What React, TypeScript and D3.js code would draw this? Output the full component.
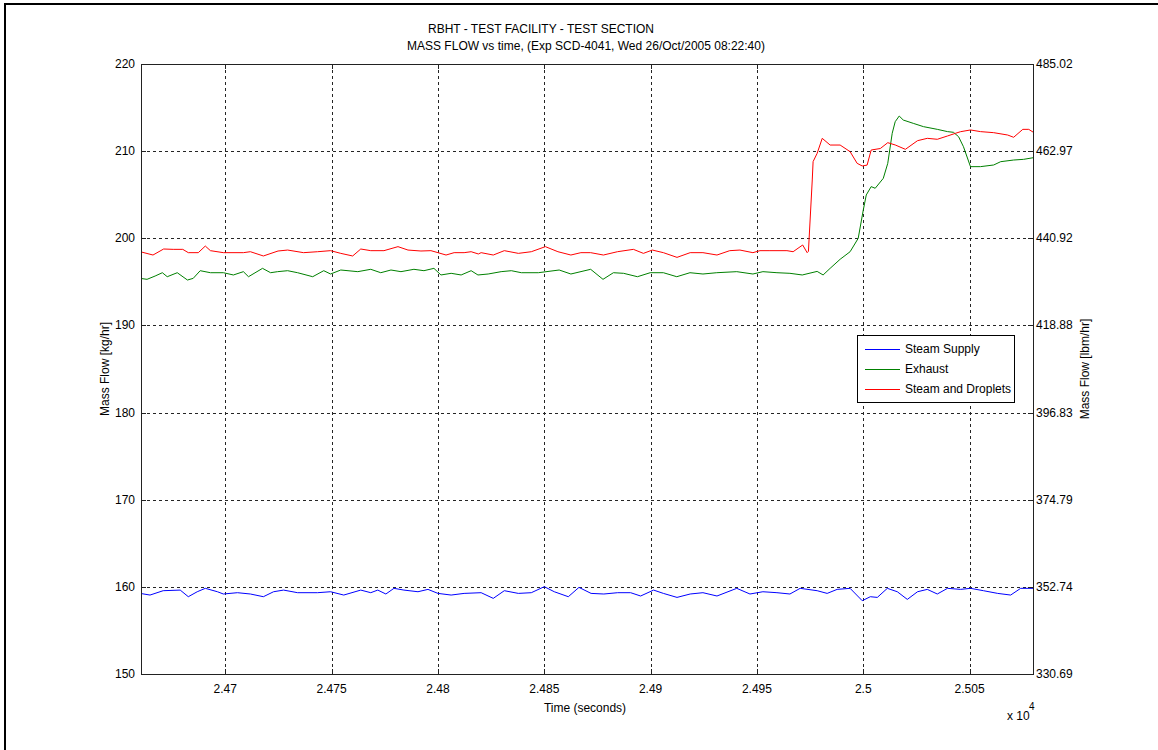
import React from "react";
import * as d3 from "d3";

const TITLE_LINE_1 = "RBHT - TEST FACILITY - TEST SECTION";
const TITLE_LINE_2 = "MASS FLOW vs time, (Exp SCD-4041, Wed 26/Oct/2005 08:22:40)";
const X_LABEL = "Time (seconds)";
const Y_LABEL_LEFT = "Mass Flow [kg/hr]";
const Y_LABEL_RIGHT = "Mass Flow [lbm/hr]";

const TIME_DOMAIN: [number, number] = [24660.36, 25079.8];
const FLOW_DOMAIN: [number, number] = [150, 220];
const X_TICKS = [24700, 24750, 24800, 24850, 24900, 24950, 25000, 25050];
const X_TICK_LABELS = ["2.47", "2.475", "2.48", "2.485", "2.49", "2.495", "2.5", "2.505"];
const Y_TICKS = [150, 160, 170, 180, 190, 200, 210, 220];
const Y_TICK_LABELS_LEFT = ["150", "160", "170", "180", "190", "200", "210", "220"];
const Y_TICK_LABELS_RIGHT = ["330.69", "352.74", "374.79", "396.83", "418.88", "440.92", "462.97", "485.02"];

const SERIES_NAMES = ["Steam Supply", "Exhaust", "Steam and Droplets"];
const SERIES_COLORS = ["#0000ff", "#008000", "#ff0000"];

// [time (s), mass flow (kg/hr)]
const steamSupply: [number, number][] = [
  [24660, 159.25], [24664.6, 159.06], [24670.8, 159.56], [24678.8, 159.63], [24682.6, 158.87],
  [24686.8, 159.44], [24690.6, 159.83], [24696.3, 159.44], [24699.1, 159.18], [24705.7, 159.33],
  [24711.8, 159.18], [24717.9, 158.87], [24722.7, 159.44], [24727.4, 159.63], [24734, 159.33],
  [24743.4, 159.33], [24749.5, 159.44], [24755.7, 159.06], [24763.7, 159.63], [24768.4, 159.33],
  [24771.7, 159.63], [24775.5, 159.18], [24779.3, 159.83], [24784, 159.63], [24790.6, 159.44],
  [24795.3, 159.71], [24800, 159.25], [24806.2, 159.06], [24812.3, 159.25], [24820.3, 159.33],
  [24826, 158.68], [24831.2, 159.56], [24837.8, 159.25], [24843.9, 159.33], [24850, 160.02],
  [24854.7, 159.44], [24861.3, 158.87], [24866.3, 159.94], [24872, 159.25], [24878, 159.18],
  [24884.5, 159.33], [24890.6, 159.33], [24895.3, 158.95], [24901.4, 159.63], [24906, 159.25],
  [24912.4, 158.79], [24918.6, 159.18], [24924.6, 159.33], [24931.2, 158.95], [24940.5, 159.83],
  [24946.7, 159.18], [24952.8, 159.44], [24959.4, 159.33], [24965.5, 159.18], [24970.3, 159.83],
  [24978.3, 159.56], [24983, 159.25], [24987.7, 159.71], [24993.8, 159.83], [24999.5, 158.41],
  [25003.3, 158.87], [25006.6, 158.79], [25011.3, 159.83], [25016, 159.44], [25020.7, 158.56],
  [25025.5, 159.44], [25030.1, 159.71], [25034.8, 159.18], [25039.6, 159.83], [25045.7, 159.71],
  [25050.4, 159.83], [25056.5, 159.56], [25063.2, 159.25], [25069.3, 159.06], [25074, 159.83],
  [25080, 159.83],
];

const exhaust: [number, number][] = [
  [24660, 195.4], [24663.2, 195.29], [24667, 195.67], [24670.4, 196.05], [24672.7, 195.59],
  [24677.4, 196.05], [24682.2, 195.21], [24684.9, 195.4], [24688.2, 196.28], [24693, 196.05],
  [24699.1, 196.05], [24703.8, 195.79], [24708.5, 196.17], [24710.9, 195.59], [24717.5, 196.55],
  [24721.3, 196.05], [24724.6, 196.17], [24729.3, 196.28], [24734, 196.05], [24741.1, 195.59],
  [24746.3, 196.28], [24749.5, 195.9], [24754.3, 196.36], [24762.3, 196.17], [24768.4, 196.44],
  [24773.1, 196.05], [24777.9, 196.36], [24782.6, 196.17], [24788.7, 196.44], [24793.4, 196.28],
  [24798.1, 196.55], [24801.4, 195.79], [24806.2, 195.98], [24810.9, 195.79], [24815.6, 196.28],
  [24818.8, 195.79], [24823.6, 195.9], [24829.7, 196.17], [24834.5, 196.28], [24839.2, 196.05],
  [24847.2, 196.05], [24857, 196.36], [24862.5, 195.9], [24871.8, 196.44], [24877.6, 195.29],
  [24882.5, 196.05], [24887.3, 195.98], [24893.8, 195.59], [24899.8, 196.05], [24906, 196.05],
  [24912.3, 195.59], [24918.5, 196.05], [24924.6, 195.9], [24931.1, 196.05], [24940.5, 196.17],
  [24948.1, 195.9], [24952.8, 196.17], [24959.4, 196.05], [24965.5, 195.98], [24971.3, 195.79],
  [24978.3, 196.2], [24981.1, 195.79], [24984.4, 196.55], [24989.1, 197.59], [24993.8, 198.46],
  [24997.6, 199.99], [25000, 203.25], [25001.4, 204.97], [25003.7, 205.93], [25005.6, 205.74],
  [25009.4, 206.88], [25011.5, 208.6], [25013.6, 212.05], [25015, 213.38], [25016.9, 214.03],
  [25018.8, 213.57], [25023.5, 213.19], [25028.3, 212.81], [25034.8, 212.5], [25039.6, 212.24],
  [25042.4, 212.16], [25044.8, 211.66], [25047.1, 210.51], [25050.4, 208.22], [25055.1, 208.22],
  [25061.3, 208.41], [25064.6, 208.79], [25070.7, 208.98], [25075.4, 209.06], [25080, 209.25],
];

const steamAndDroplets: [number, number][] = [
  [24660, 198.46], [24666, 198.08], [24671, 198.77], [24675.5, 198.73], [24680, 198.73],
  [24682.6, 198.35], [24687.3, 198.35], [24690.6, 199.11], [24693, 198.58], [24699.1, 198.35],
  [24708.5, 198.35], [24711.8, 198.46], [24717.9, 197.97], [24724.8, 198.54], [24729.3, 198.65],
  [24736.8, 198.35], [24743.4, 198.46], [24749.5, 198.58], [24754.3, 198.27], [24759.9, 197.97],
  [24763.7, 198.77], [24768.4, 198.58], [24774.6, 198.58], [24781.2, 199.04], [24785.9, 198.65],
  [24792, 198.54], [24796.7, 198.58], [24800, 198.35], [24803.8, 198.08], [24807.6, 198.35],
  [24812.3, 198.35], [24815.6, 198.46], [24819, 198.2], [24820.3, 198.35], [24826, 198.08],
  [24831.2, 198.58], [24837.8, 198.27], [24843.9, 198.46], [24850.5, 199.04], [24856.4, 198.46],
  [24862.5, 198.08], [24867.2, 198.35], [24871.8, 198.35], [24877.8, 198.08], [24884.4, 198.46],
  [24891.9, 198.73], [24896.6, 198.27], [24900.8, 198.65], [24906, 198.35], [24912.4, 197.81],
  [24918.6, 198.35], [24924.6, 198.35], [24931.2, 198.08], [24937.2, 198.58], [24942, 198.65],
  [24948.1, 198.35], [24951.4, 198.58], [24956.1, 198.58], [24964.1, 198.58], [24967, 198.46],
  [24971.5, 199.23], [24973.6, 198.35], [24974.2, 198.5], [24976, 206.69], [24976.4, 208.8],
  [24978.3, 209.75], [24980.7, 211.47], [24984.4, 210.7], [24989.1, 210.7], [24993.8, 209.94],
  [24997.1, 208.6], [24999.5, 208.3], [25001.8, 208.4], [25003.7, 210.13], [25008, 210.3],
  [25011.5, 210.97], [25015, 210.71], [25019.8, 210.21], [25025.5, 211.2], [25030.1, 211.47],
  [25034.8, 211.36], [25039.6, 211.74], [25043.4, 212.05], [25045.7, 212.23], [25050.4, 212.43],
  [25055.1, 212.24], [25061.3, 212.12], [25067.9, 211.85], [25070.7, 211.59], [25075, 212.5],
  [25077.8, 212.5], [25080, 212.16],
];

const ALL_SERIES = [steamSupply, exhaust, steamAndDroplets];

const W = 1158;
const H = 750;
const PL = 141;
const PR = 1033;
const PT = 64;
const PB = 674;
const FONT = "'Liberation Sans', Arial, Helvetica, sans-serif";

export default function App() {
  const x = d3.scaleLinear().domain(TIME_DOMAIN).range([PL, PR]);
  const y = d3.scaleLinear().domain(FLOW_DOMAIN).range([PB, PT]);
  const line = d3
    .line<[number, number]>()
    .x((d) => x(d[0]))
    .y((d) => y(d[1]));
  const tickLen = 5;

  return (
    <svg
      width={W}
      height={H}
      style={{ position: "absolute", left: 0, top: 0, background: "#fff" }}
      fontFamily={FONT}
      fontSize={12}
    >
      <rect x={0} y={0} width={W} height={H} fill="#fff" />
      <rect x={5} y={4} width={W + 20} height={H + 20} fill="none" stroke="#000" strokeWidth={2} />
      <defs>
        <clipPath id="plotClip">
          <rect x={PL} y={PT} width={PR - PL} height={PB - PT} />
        </clipPath>
      </defs>

      {/* grid */}
      <g stroke="#000" strokeWidth={1} strokeDasharray="3,3" opacity={0.85}>
        {X_TICKS.map((t) => (
          <line key={"gx" + t} x1={Math.round(x(t)) + 0.5} x2={Math.round(x(t)) + 0.5} y1={PT} y2={PB} />
        ))}
        {Y_TICKS.filter((v) => v !== 150 && v !== 220).map((v) => (
          <line key={"gy" + v} x1={PL} x2={PR} y1={Math.round(y(v)) + 0.5} y2={Math.round(y(v)) + 0.5} />
        ))}
      </g>

      {/* data */}
      <g clipPath="url(#plotClip)" fill="none" strokeWidth={1}>
        {ALL_SERIES.map((s, i) => (
          <path key={SERIES_NAMES[i]} d={line(s) || ""} stroke={SERIES_COLORS[i]} />
        ))}
      </g>

      {/* axes box */}
      <rect x={PL + 0.5} y={PT + 0.5} width={PR - PL} height={PB - PT} fill="none" stroke="#222" strokeWidth={1} />

      {/* ticks */}
      <g stroke="#222" strokeWidth={1}>
        {X_TICKS.map((t) => (
          <g key={"tx" + t}>
            <line x1={Math.round(x(t)) + 0.5} x2={Math.round(x(t)) + 0.5} y1={PB} y2={PB - tickLen} />
            <line x1={Math.round(x(t)) + 0.5} x2={Math.round(x(t)) + 0.5} y1={PT} y2={PT + tickLen} />
          </g>
        ))}
        {Y_TICKS.map((v) => (
          <g key={"ty" + v}>
            <line x1={PL} x2={PL + tickLen} y1={Math.round(y(v)) + 0.5} y2={Math.round(y(v)) + 0.5} />
            <line x1={PR} x2={PR - tickLen} y1={Math.round(y(v)) + 0.5} y2={Math.round(y(v)) + 0.5} />
          </g>
        ))}
      </g>

      {/* tick labels */}
      <g fill="#000">
        {X_TICKS.map((t, i) => (
          <text key={"lx" + t} x={x(t)} y={693} textAnchor="middle">
            {X_TICK_LABELS[i]}
          </text>
        ))}
        {Y_TICKS.map((v, i) => (
          <text key={"ly" + v} x={135} y={y(v) + 4} textAnchor="end">
            {Y_TICK_LABELS_LEFT[i]}
          </text>
        ))}
        {Y_TICKS.map((v, i) => (
          <text key={"lr" + v} x={1036} y={y(v) + 4} textAnchor="start">
            {Y_TICK_LABELS_RIGHT[i]}
          </text>
        ))}
        <text x={1007} y={720}>
          x 10
        </text>
        <text x={1029} y={710} fontSize={10}>
          4
        </text>
      </g>

      {/* titles & labels */}
      <g fill="#000" textAnchor="middle">
        <text x={541} y={33}>{TITLE_LINE_1}</text>
        <text x={586} y={50}>{TITLE_LINE_2}</text>
        <text x={585} y={712}>{X_LABEL}</text>
        <text transform={`translate(109, ${(PT + PB) / 2}) rotate(-90)`}>{Y_LABEL_LEFT}</text>
        <text transform={`translate(1089, ${(PT + PB) / 2}) rotate(-90)`}>{Y_LABEL_RIGHT}</text>
      </g>

      {/* legend */}
      <g>
        <rect x={857.5} y={335.5} width={157} height={67} fill="#fff" stroke="#000" strokeWidth={1} />
        {SERIES_NAMES.map((name, i) => {
          const ly = 349 + i * 20;
          return (
            <g key={"leg" + name}>
              <line x1={865} x2={900} y1={ly + 0.5} y2={ly + 0.5} stroke={SERIES_COLORS[i]} strokeWidth={1} />
              <text x={905} y={ly + 4} fill="#000">
                {name}
              </text>
            </g>
          );
        })}
      </g>
    </svg>
  );
}
